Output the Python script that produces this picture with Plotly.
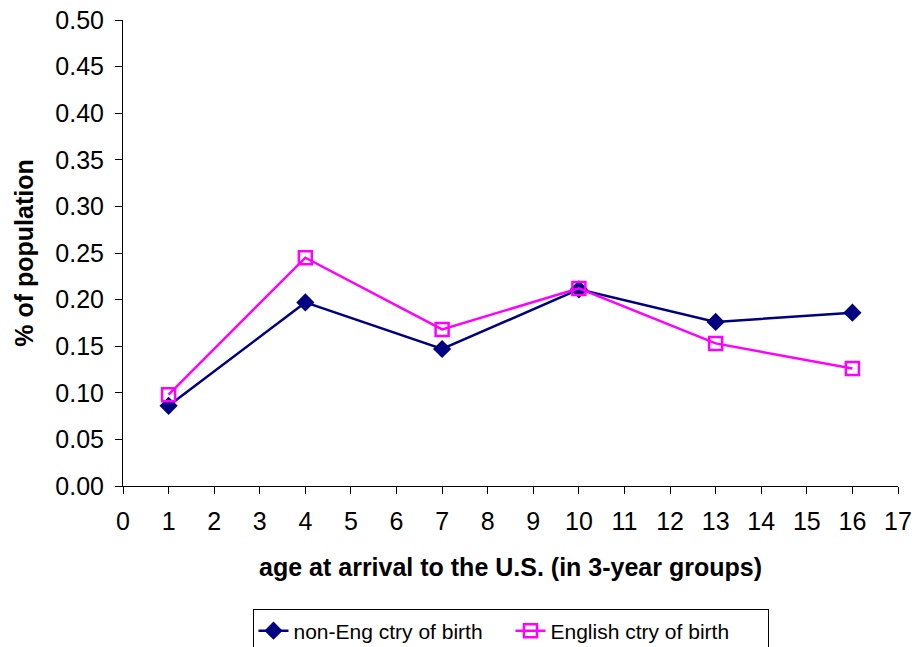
import plotly.graph_objects as go

ages = [1, 4, 7, 10, 13, 16]
non_eng = [0.086, 0.197, 0.147, 0.211, 0.176, 0.186]
english = [0.098, 0.245, 0.168, 0.212, 0.153, 0.126]
x_ticks = list(range(0, 18))
y_ticks = [round(0.05 * i, 2) for i in range(11)]

fig = go.Figure()
fig.add_trace(go.Scatter(
    x=ages, y=non_eng, mode="lines+markers", name="non-Eng ctry of birth",
    line=dict(color="#000080", width=2.5),
    marker=dict(symbol="diamond", size=14, color="#000080"),
))
fig.add_trace(go.Scatter(
    x=ages, y=english, mode="lines+markers", name="English ctry of birth",
    line=dict(color="#FF00FF", width=2.5),
    marker=dict(symbol="square-open", size=13, color="#FF00FF", line=dict(width=2.5)),
))

fig.update_layout(
    width=917, height=647,
    margin=dict(l=123, r=19, t=20, b=161, autoexpand=False),
    plot_bgcolor="white", paper_bgcolor="white",
    font=dict(family="Liberation Sans, Arial", size=25, color="black"),
    showlegend=True,
    legend=dict(
        orientation="h", x=0.5, xanchor="center", y=-0.265, yanchor="top",
        bordercolor="black", borderwidth=1, font=dict(size=21),
        tracegroupgap=0, entrywidth=212, entrywidthmode="pixels",
    ),
    xaxis=dict(
        range=[0, 17], tickvals=x_ticks, ticktext=[str(v) for v in x_ticks],
        showline=True, linecolor="black", linewidth=1, ticks="outside",
        ticklen=7, tickcolor="black", showgrid=False, zeroline=False,
        tickfont=dict(size=25), ticklabelstandoff=6,
        title=dict(text="<b>age at arrival to the U.S. (in 3-year groups)</b>",
                   font=dict(size=25), standoff=24),
    ),
    yaxis=dict(
        range=[0, 0.5], tickvals=y_ticks, ticktext=[f"{v:.2f}" for v in y_ticks],
        showline=True, linecolor="black", linewidth=1, ticks="outside",
        ticklen=7, tickcolor="black", showgrid=False, zeroline=False,
        tickfont=dict(size=25), ticklabelstandoff=6,
        title=dict(text="<b>% of population</b>", font=dict(size=25), standoff=14),
    ),
)

fig.write_html("out.html", config={"displayModeBar": False},
               post_script="document.body.style.margin='0';")
